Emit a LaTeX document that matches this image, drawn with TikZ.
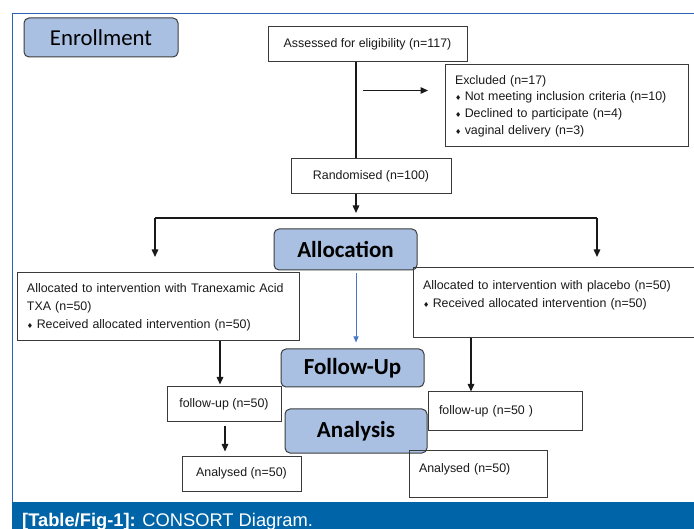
\documentclass[tikz,border=0pt]{standalone}
\usepackage{fontspec}
\setmainfont{Liberation Sans}
\newfontfamily\calfont{Carlito}
\newfontfamily\symfont{DejaVu Sans}
\usetikzlibrary{arrows.meta}
\definecolor{hdrfill}{HTML}{A9C0E2}
\definecolor{hdrdraw}{HTML}{3C3C3C}
\definecolor{boxdraw}{HTML}{3A3A3A}
\definecolor{capblue}{HTML}{0064A8}
\definecolor{framecol}{HTML}{2A62B4}
\definecolor{arrblue}{HTML}{4A78C8}
\newcommand{\bul}{{\symfont\fontsize{7}{7}\selectfont ♦}\hspace{3.5pt}}
\tikzset{
  hdr/.style={draw=hdrdraw, fill=hdrfill, rounded corners=5pt, line width=1pt, inner sep=0pt, text=black},
  hdrtxt/.style={font=\calfont\bfseries\fontsize{23}{26}\selectfont},
  sbox/.style={draw=boxdraw, line width=1pt, inner sep=0pt, font=\fontsize{12.4}{18}\selectfont, text=black!90},
  lbox/.style={draw=boxdraw, line width=1pt, inner ysep=0pt, inner xsep=10pt, align=left, font=\fontsize{12.4}{18}\selectfont, text=black!90},
  arr/.style={draw=black!90, line width=1.4pt, -{Triangle[length=7.5pt,width=6.5pt]}},
  ln/.style={draw=black!90, line width=1.4pt},
  barr/.style={draw=arrblue, line width=1pt, -{Triangle[length=6pt,width=5pt]}}
}
\begin{document}
\begin{tikzpicture}[x=1pt,y=-1pt]
\useasboundingbox (0,0) rectangle (694,529);
% frame and caption
\draw[framecol, line width=1pt] (694,14) -- (12,14) -- (12,502);
\fill[capblue] (12,502) rectangle (694,529);
\node[anchor=base west, text=white, inner sep=0pt, font=\fontsize{18.3}{20}\selectfont] (cap) at (22,526.5) {\textbf{[Table/Fig-1]:} CONSORT Diagram.};
% phase headers
\node[hdr, minimum width=154pt, minimum height=39pt, font=\calfont\fontsize{22.8}{26}\selectfont] (enroll) at (101,37.5) {Enrollment};
\node[hdr, hdrtxt, minimum width=143pt, minimum height=41pt] (alloc) at (345.5,249.5) {Allocation};
\node[hdr, hdrtxt, minimum width=143pt, minimum height=38pt] (fu) at (352.5,368) {Follow-Up};
\node[hdr, hdrtxt, minimum width=142pt, minimum height=44pt] (an) at (356,431) {Analysis};
% boxes
\node[sbox, minimum width=199pt, minimum height=35pt] (assess) at (367.5,44.5) {Assessed for eligibility (n=117)};
\node[sbox, minimum width=160pt, minimum height=35pt] (rand) at (371,176.5) {Randomised (n=100)};
\node[lbox, text width=223pt, minimum height=82pt, font=\fontsize{12.4}{16.7}\selectfont] (excl) at (566.5,106)
  {Excluded (n=17)\\ \bul Not meeting inclusion criteria (n=10)\\ \bul Declined to participate (n=4)\\ \bul vaginal delivery (n=3)};
\node[lbox, text width=262pt, minimum height=68pt] (lalloc) at (158,307)
  {Allocated to intervention with Tranexamic Acid\\ TXA (n=50)\\ \bul Received allocated intervention (n=50)};
\node[lbox, text width=267pt, minimum height=70pt] (ralloc) at (556.5,303)
  {Allocated to intervention with placebo (n=50)\\ \bul Received allocated intervention (n=50)\\ \mbox{}};
\node[sbox, minimum width=114pt, minimum height=35pt] (lfu) at (224,404.5) {follow-up (n=50)};
\node[sbox, minimum width=119pt, minimum height=35pt] (lan) at (241.5,473.5) {Analysed (n=50)};
\node[lbox, inner xsep=11pt, text width=132pt, minimum height=39pt] (rfu) at (505,411.5) {follow-up (n=50 )};
\node[lbox, text width=118pt, minimum height=46pt] (ran) at (478,474) {Analysed (n=50)\\[-6pt]\mbox{}};
% connectors
\coordinate (spine) at (356,0);
\coordinate (exA) at (363,90.5);
\coordinate (exB) at (428,90.5);
\coordinate (split) at (356,218);
\coordinate (splitL) at (155,218);
\coordinate (splitR) at (597,218);
\coordinate (tipL) at (155,257);
\coordinate (tipR) at (597,257);
\coordinate (lx) at (220,0);
\coordinate (lx2) at (225,0);
\coordinate (rx) at (471,0);
\draw[ln] (assess.south -| spine) -- (rand.north -| spine);
\draw[arr] (exA) -- (exB);
\draw[arr, shorten >=5pt] (rand.south -| spine) -- (split);
\draw[ln] (splitL) -- (splitR);
\draw[arr] (splitL) -- (tipL);
\draw[arr] (splitR) -- (tipR);
\draw[barr, shorten <=3pt, shorten >=6pt] (alloc.south -| spine) -- (fu.north -| spine);
\draw[arr, shorten >=2pt] (lalloc.south -| lx) -- (lfu.north -| lx);
\draw[arr, shorten <=4pt, shorten >=4pt] (lfu.south -| lx2) -- (lan.north -| lx2);
\draw[arr] (ralloc.south -| rx) -- (rfu.north -| rx);
\end{tikzpicture}
\end{document}
